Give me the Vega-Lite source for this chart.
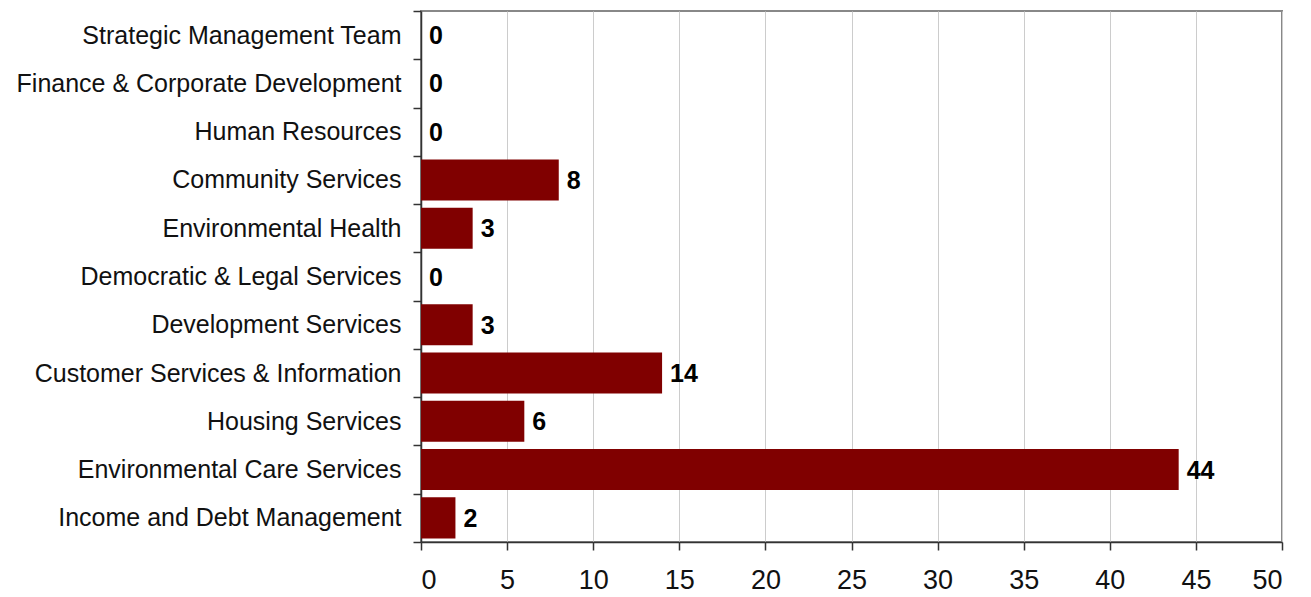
{
  "$schema": "https://vega.github.io/schema/vega-lite/v6.json",
  "autosize": "none",
  "width": 861,
  "height": 531,
  "padding": {"left": 421, "top": 11, "right": 29, "bottom": 55},
  "background": "white",
  "config": {
    "view": {"stroke": "#888888", "strokeWidth": 2},
    "font": "Liberation Sans"
  },
  "data": {
    "values": [
      {"dept": "Strategic Management Team", "n": 0},
      {"dept": "Finance & Corporate Development", "n": 0},
      {"dept": "Human Resources", "n": 0},
      {"dept": "Community Services", "n": 8},
      {"dept": "Environmental Health", "n": 3},
      {"dept": "Democratic & Legal Services", "n": 0},
      {"dept": "Development Services", "n": 3},
      {"dept": "Customer Services & Information", "n": 14},
      {"dept": "Housing Services", "n": 6},
      {"dept": "Environmental Care Services", "n": 44},
      {"dept": "Income and Debt Management", "n": 2}
    ]
  },
  "encoding": {
    "y": {
      "field": "dept",
      "type": "nominal",
      "sort": null,
      "scale": {"paddingInner": 0, "paddingOuter": 0},
      "axis": {
        "title": null,
        "tickBand": "extent",
        "domainColor": "#333333",
        "domainWidth": 1.5,
        "tickColor": "#333333",
        "tickSize": 8,
        "tickWidth": 1.5,
        "labelFontSize": 25,
        "labelColor": "#111111",
        "labelPadding": 12,
        "labelLimit": 500
      }
    },
    "x": {
      "field": "n",
      "type": "quantitative",
      "scale": {"domain": [0, 50], "nice": false},
      "axis": {
        "title": null,
        "values": [0, 5, 10, 15, 20, 25, 30, 35, 40, 45, 50],
        "grid": true,
        "gridColor": "#cccccc",
        "gridWidth": 1,
        "domainColor": "#333333",
        "domainWidth": 1.5,
        "tickColor": "#333333",
        "tickSize": 8,
        "tickWidth": 1.5,
        "labelFontSize": 27,
        "labelColor": "#111111",
        "labelPadding": 17
      }
    }
  },
  "layer": [
    {
      "mark": {"type": "bar", "color": "#800000", "height": {"band": 0.85}}
    },
    {
      "mark": {"type": "text", "align": "left", "baseline": "middle", "dx": 8, "dy": 1, "fontSize": 25, "fontWeight": "bold", "color": "#000000"},
      "encoding": {"text": {"field": "n", "type": "quantitative"}}
    }
  ]
}
